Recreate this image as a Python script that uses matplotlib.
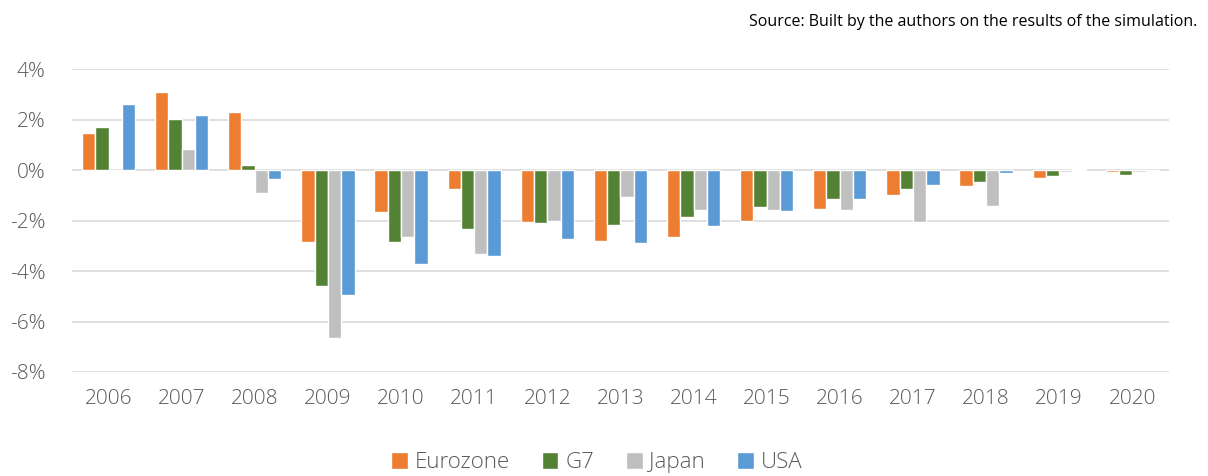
import numpy as np
import matplotlib
matplotlib.use("Agg")
import matplotlib.pyplot as plt
from matplotlib.ticker import FuncFormatter

years = [str(y) for y in range(2006, 2021)]
eurozone = [1.46, 3.09, 2.30, -2.86, -1.64, -0.74, -2.04, -2.79, -2.64, -2.03, -1.53, -1.00, -0.63, -0.30, -0.07]
g7 = [1.71, 2.03, 0.22, -4.60, -2.86, -2.32, -2.10, -2.17, -1.84, -1.46, -1.13, -0.76, -0.45, -0.25, -0.18]
japan = [0.00, 0.83, -0.92, -6.66, -2.63, -3.33, -2.01, -1.05, -1.57, -1.59, -1.59, -2.05, -1.43, -0.07, -0.06]
usa = [2.64, 2.18, -0.34, -4.96, -3.72, -3.42, -2.74, -2.89, -2.22, -1.62, -1.13, -0.57, -0.10, 0.04, 0.01]

series = [("Eurozone", eurozone, "#ED7D31"),
          ("G7", g7, "#548235"),
          ("Japan", japan, "#BFBFBF"),
          ("USA", usa, "#5B9BD5")]

plt.rcParams['font.family'] = ['Open Sans', 'DejaVu Sans']

fig = plt.figure(figsize=(12.08, 4.76), dpi=100)
ax = fig.add_axes([0.0596, 0.2185, 0.908, 0.636])

ind = np.arange(len(years))
width = 0.182  # step between bars in a group

handles = []
for i, (name, vals, col) in enumerate(series):
    off = (i - 1.5) * width
    b = ax.bar(ind + off, vals, width, color=col, edgecolor='white',
               linewidth=1.0, label=name, zorder=3)
    handles.append(b)

ax.set_xlim(-0.5, len(years) - 0.5)
ax.set_ylim(-8, 4)
ax.set_yticks(np.arange(-8, 5, 2))
ax.yaxis.set_major_formatter(FuncFormatter(lambda v, p: '%d%%' % v))
ax.set_xticks(ind)
ax.set_xticklabels(years)

ax.grid(axis='y', color='#D9D9D9', linewidth=1.2, zorder=0)
for s in ax.spines.values():
    s.set_visible(False)
ax.tick_params(axis='both', length=0, colors='#595959', labelsize=15)
ax.tick_params(axis='x', pad=12)
ax.tick_params(axis='y', pad=19)
for lab in ax.get_xticklabels() + ax.get_yticklabels():
    lab.set_fontweight('light')

leg = fig.legend(handles, [s[0] for s in series], loc='center',
                 bbox_to_anchor=(0.494, 0.028), ncol=4, frameon=False,
                 fontsize=16, labelcolor='#595959', handlelength=0.75,
                 handleheight=0.75, handletextpad=0.3, columnspacing=1.45)
for t in leg.get_texts():
    t.set_fontweight('light')

fig.text(0.991, 0.953, 'Source: Built by the authors on the results of the simulation.',
         ha='right', va='center', fontsize=11.5, color='#000000')

fig.savefig('out.png', dpi=100)
